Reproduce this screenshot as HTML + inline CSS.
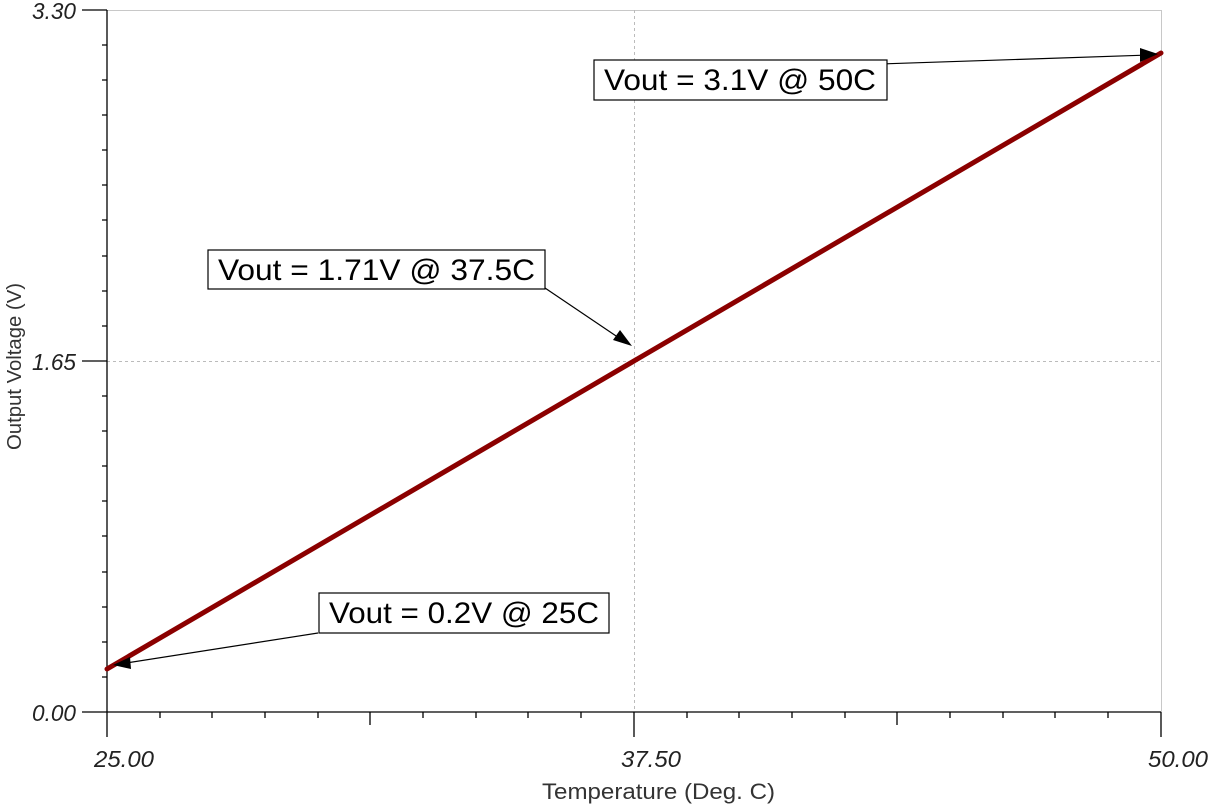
<!DOCTYPE html>
<html><head><style>body{margin:0;background:#fff}svg{display:block}</style></head><body>
<svg width="1208" height="804" xmlns="http://www.w3.org/2000/svg" font-family="Liberation Sans, sans-serif">
<rect width="1208" height="804" fill="#fff"/>
<line x1="107" y1="10.5" x2="1161" y2="10.5" stroke="#c8c8c8" stroke-width="1"/>
<line x1="1161.5" y1="10" x2="1161.5" y2="712" stroke="#c8c8c8" stroke-width="1"/>
<line x1="634.5" y1="10" x2="634.5" y2="712" stroke="#bbb" stroke-dasharray="3,3"/>
<line x1="107" y1="361.5" x2="1161" y2="361.5" stroke="#bbb" stroke-dasharray="3,3"/>
<g stroke="#000" stroke-width="1.3">
<line x1="107" y1="10" x2="107" y2="737"/>
<line x1="82" y1="712" x2="1161" y2="712"/>
<line x1="82" y1="10" x2="107" y2="10"/>
<line x1="82" y1="361" x2="107" y2="361"/>
<path d="M102 45H107M102 80H107M102 115H107M102 150H107M102 185H107M102 220H107M102 256H107M102 291H107M102 326H107M102 396H107M102 431H107M102 466H107M102 501H107M102 536H107M102 572H107M102 607H107M102 642H107M102 677H107"/>
<path d="M160 712V718M212 712V718M265 712V718M318 712V718M423 712V718M476 712V718M528 712V718M581 712V718M687 712V718M739 712V718M792 712V718M845 712V718M950 712V718M1003 712V718M1055 712V718M1108 712V718"/>
<path d="M370 712V725M897 712V725M634 712V737M1161 712V737"/>
</g>
<g font-style="italic" font-size="23" fill="#222">
<text x="32" y="19" textLength="44" lengthAdjust="spacingAndGlyphs">3.30</text>
<text x="32" y="370" textLength="44" lengthAdjust="spacingAndGlyphs">1.65</text>
<text x="32" y="721" textLength="44" lengthAdjust="spacingAndGlyphs">0.00</text>
<text x="94" y="767" textLength="60" lengthAdjust="spacingAndGlyphs">25.00</text>
<text x="621" y="767" textLength="60" lengthAdjust="spacingAndGlyphs">37.50</text>
<text x="1148" y="767" textLength="60" lengthAdjust="spacingAndGlyphs">50.00</text>
</g>
<text x="542" y="799" font-size="22" fill="#333" textLength="233" lengthAdjust="spacingAndGlyphs">Temperature (Deg. C)</text>
<text transform="translate(21,450) rotate(-90)" font-size="20" fill="#333" textLength="167" lengthAdjust="spacingAndGlyphs">Output Voltage (V)</text>
<line x1="107" y1="669" x2="1161" y2="53" stroke="#8b0000" stroke-width="5" stroke-linecap="round"/>
<g stroke="#000" stroke-width="1.2" fill="none">
<line x1="318" y1="633" x2="120" y2="664"/>
<line x1="545" y1="288" x2="625" y2="342"/>
<line x1="880" y1="64" x2="1150" y2="55"/>
</g>
<g fill="#000">
<polygon points="113,665 130,657 131,669"/>
<polygon points="632,346 613,340 620,330"/>
<polygon points="1158,54 1140,48 1140,62"/>
</g>
<g fill="#fff" stroke="#000" stroke-width="1.2">
<rect x="319" y="593" width="290" height="40"/>
<rect x="208" y="250" width="337" height="39"/>
<rect x="594" y="60" width="293" height="40"/>
</g>
<g font-size="30" fill="#000">
<text x="329" y="623" textLength="270" lengthAdjust="spacingAndGlyphs">Vout = 0.2V @ 25C</text>
<text x="218" y="280" textLength="317" lengthAdjust="spacingAndGlyphs">Vout = 1.71V @ 37.5C</text>
<text x="604" y="90" textLength="272" lengthAdjust="spacingAndGlyphs">Vout = 3.1V @ 50C</text>
</g>
</svg>
</body></html>
